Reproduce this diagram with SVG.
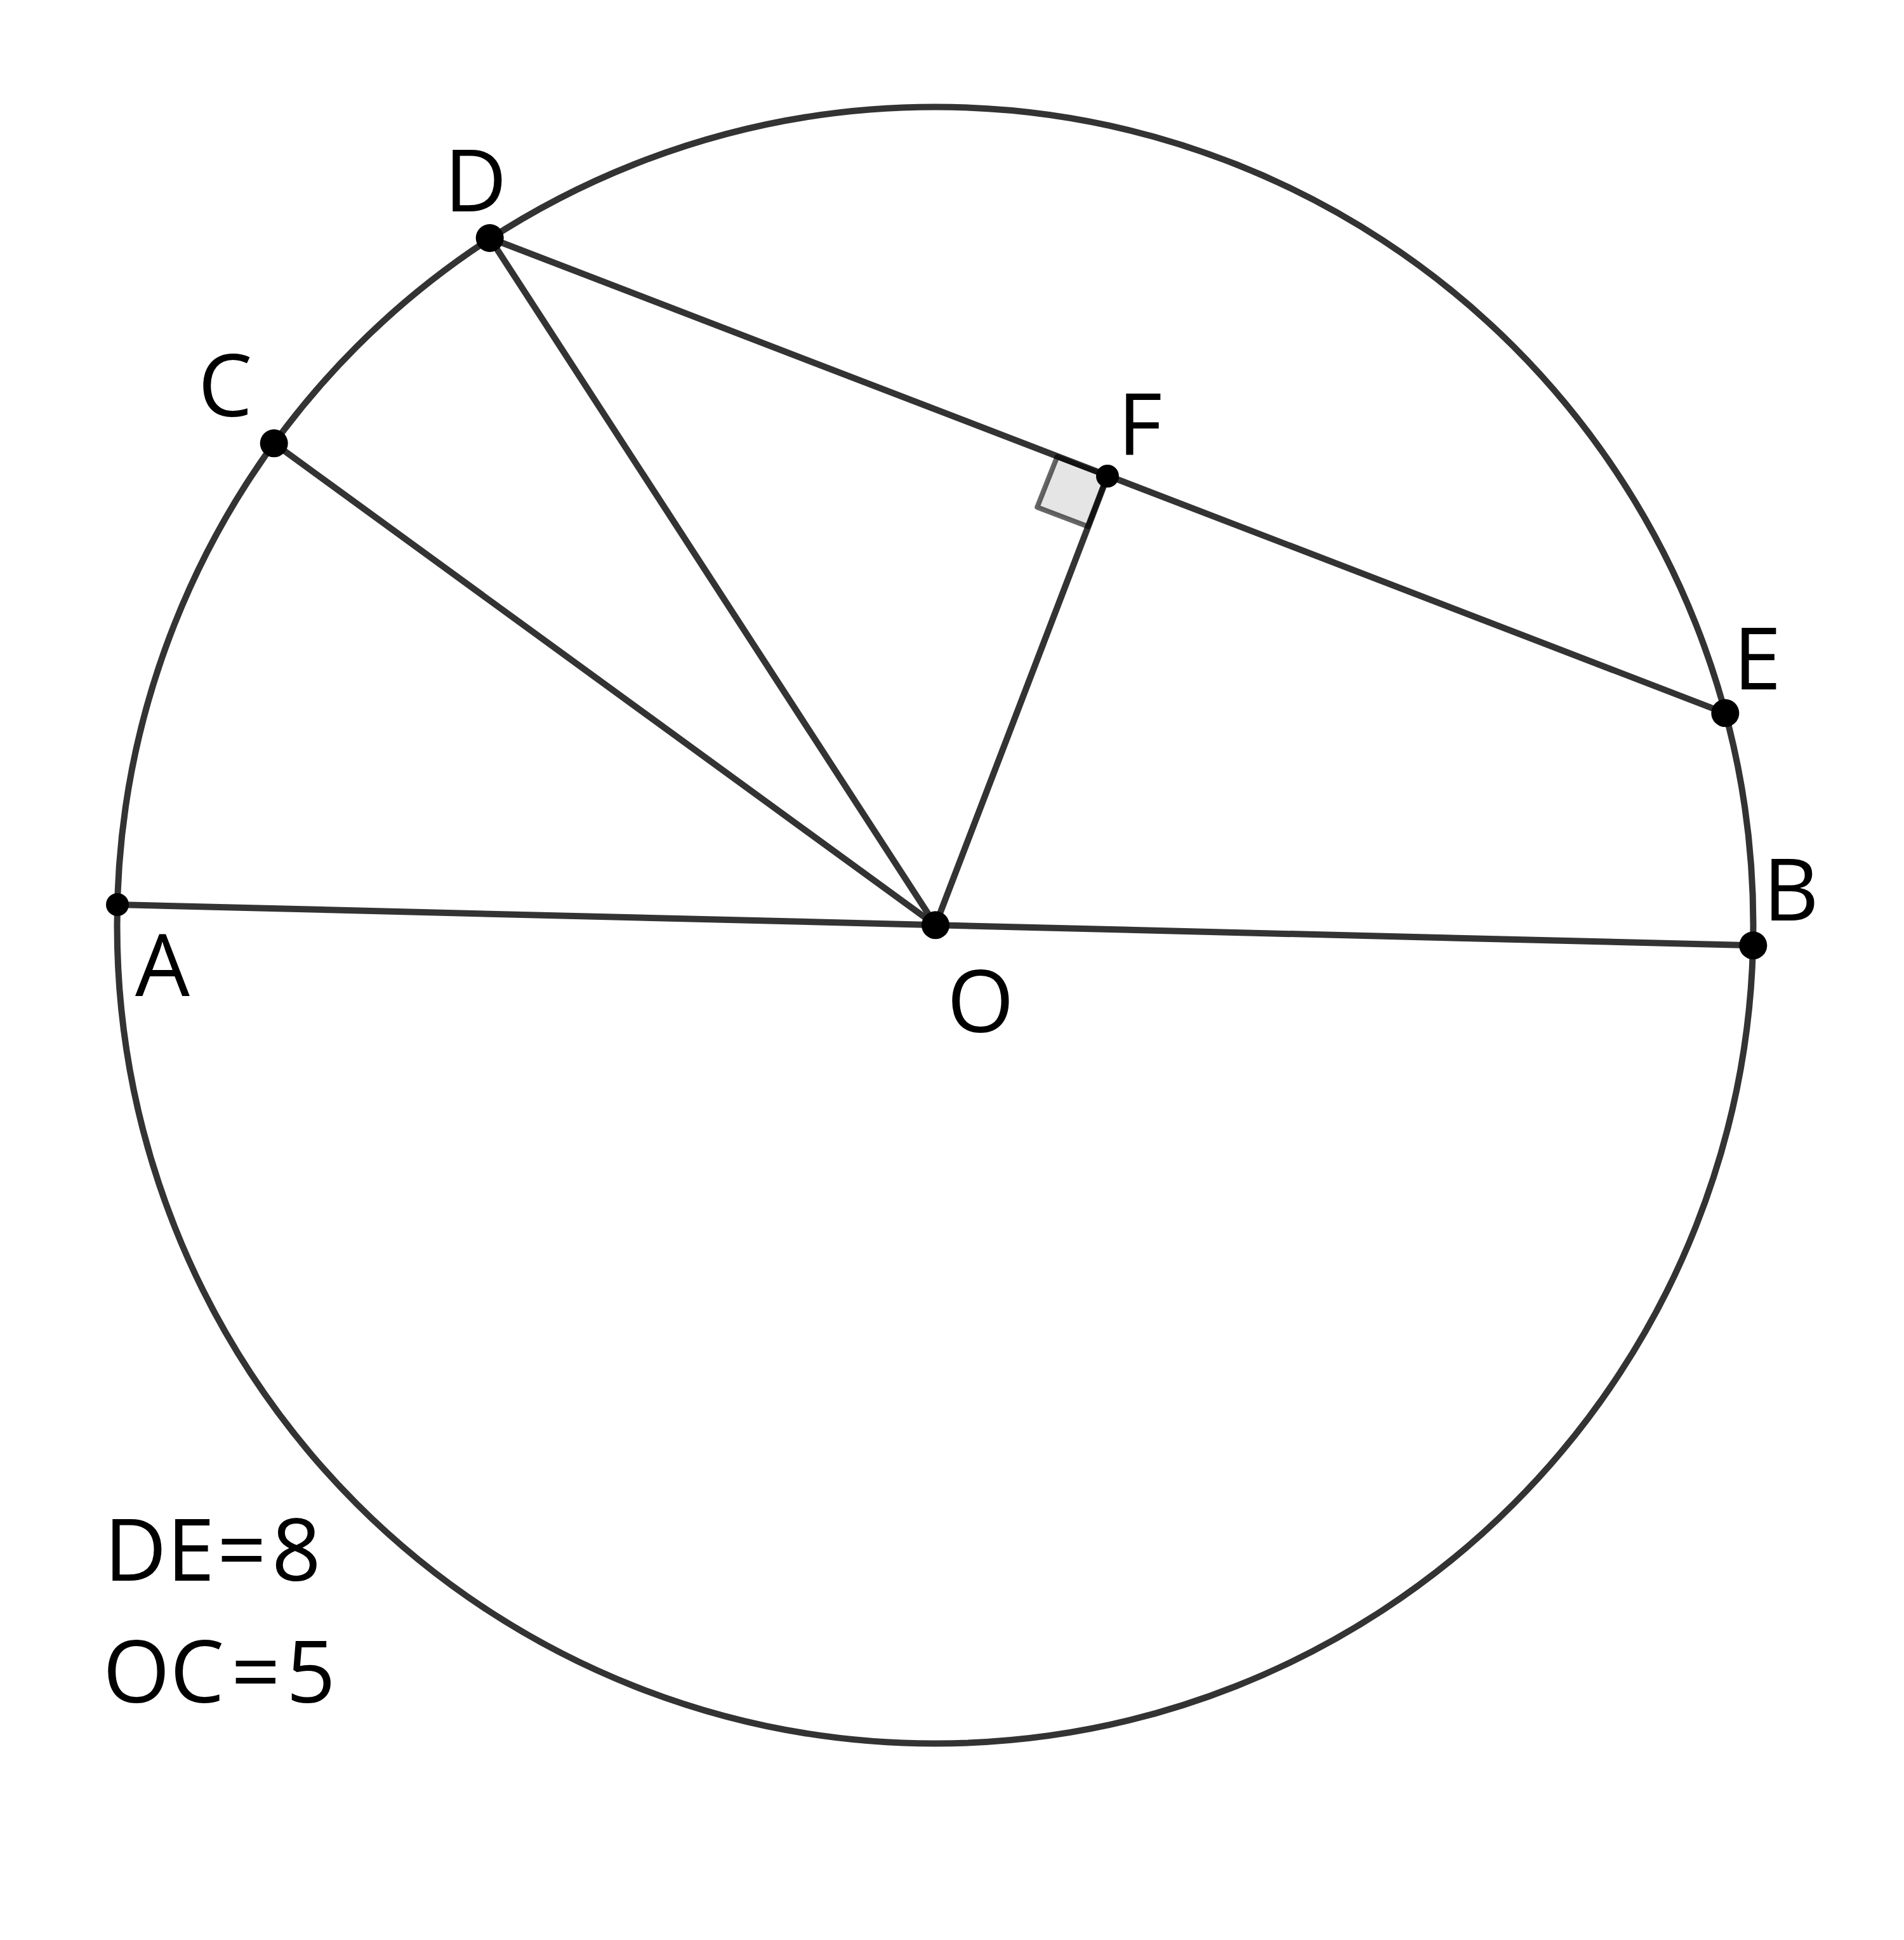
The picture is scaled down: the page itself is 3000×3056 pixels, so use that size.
<svg xmlns="http://www.w3.org/2000/svg" width="3000" height="3056" viewBox="0 0 3000 3056">
<style>
.ln{stroke:#333;stroke-width:10;fill:none;stroke-linecap:round}
.pt{fill:#000}
.lb{font-family:"Open Sans","Liberation Sans",sans-serif;font-size:136px;fill:#000}
</style>
<rect width="3000" height="3056" fill="#fff"/>
<g id="circle">
<circle cx="1473.5" cy="1457.5" r="1289" class="ln"/>
</g>
<g id="connectors">
<line x1="185" y1="1425" x2="2762.3" y2="1489.3" class="ln"/>
<line x1="431.7" y1="698.3" x2="1474" y2="1457.3" class="ln"/>
<line x1="771.7" y1="375" x2="1474" y2="1457.3" class="ln"/>
<line x1="771.7" y1="375" x2="2718.3" y2="1123.3" class="ln"/>
<line x1="1745" y1="750" x2="1474" y2="1457.3" class="ln"/>
</g>
<g id="right-angle">
<polygon points="1745,750 1665.7,719.5 1634.2,798.9 1714.5,829.4" fill="#000" fill-opacity="0.1" stroke="#000" stroke-opacity="0.6" stroke-width="8" stroke-linejoin="round"/>
</g>
<g id="node-A"><circle cx="185" cy="1425" r="18" class="pt"/><text x="213" y="1569" class="lb">A</text></g>
<g id="node-B"><circle cx="2762.3" cy="1489.3" r="22" class="pt"/><text x="2778" y="1450" class="lb">B</text></g>
<g id="node-C"><circle cx="431.7" cy="698.3" r="22" class="pt"/><text x="312" y="656" class="lb">C</text></g>
<g id="node-D"><circle cx="771.7" cy="375" r="22" class="pt"/><text x="700" y="333" class="lb">D</text></g>
<g id="node-E"><circle cx="2718.3" cy="1123.3" r="22" class="pt"/><text x="2731" y="1086" class="lb">E</text></g>
<g id="node-F"><circle cx="1745" cy="750" r="18" class="pt"/><text x="1761" y="717" class="lb">F</text></g>
<g id="node-O"><circle cx="1474" cy="1457.3" r="22" class="pt"/><text x="1492" y="1626" class="lb">O</text></g>
<g id="given">
<text y="2490" class="lb" font-size="138"><tspan x="164">DE</tspan><tspan x="342">=</tspan><tspan x="428">8</tspan></text>
<text y="2682" class="lb" font-size="138"><tspan x="162">OC</tspan><tspan x="364">=</tspan><tspan x="451">5</tspan></text>
</g>
</svg>
